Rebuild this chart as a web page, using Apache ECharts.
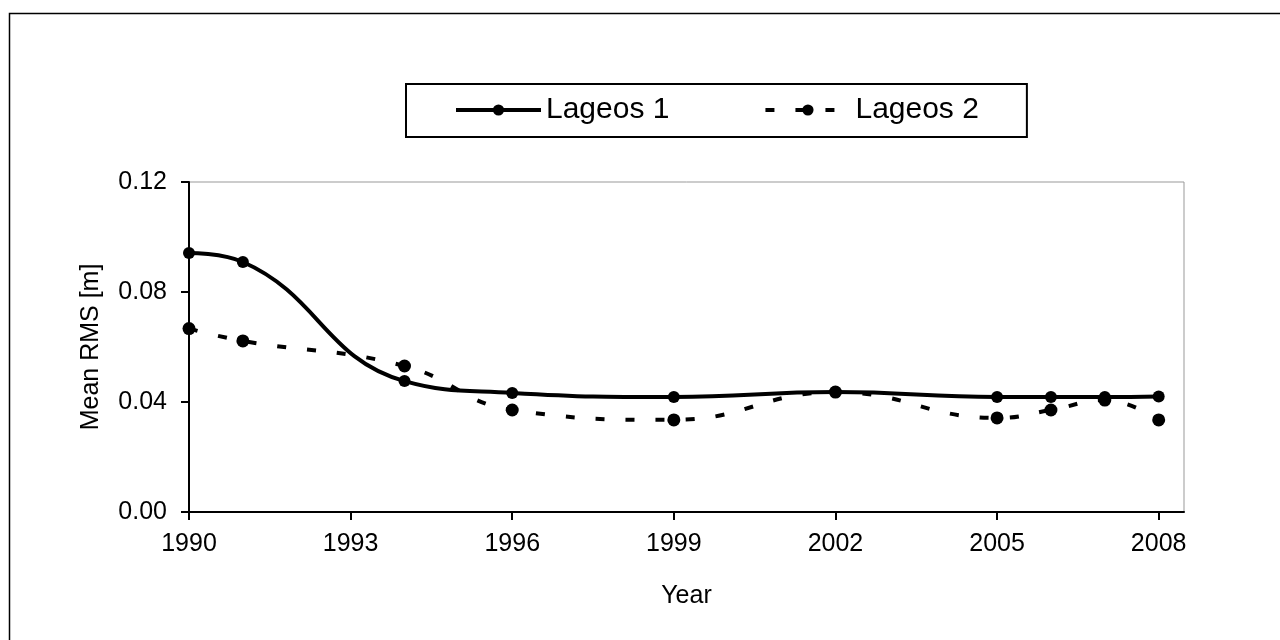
<!DOCTYPE html>
<html><head><meta charset="utf-8">
<script src="https://cdn.jsdelivr.net/npm/echarts@6/dist/echarts.min.js"></script>
<style>html,body{margin:0;padding:0;background:#fff}#c{width:1280px;height:640px}</style>
</head><body><div id="c"></div>
<script>
const years = [1990, 1991, 1994, 1996, 1999, 2002, 2005, 2006, 2007, 2008];
const lageos1 = [0.0942, 0.0909, 0.0476, 0.0433, 0.0418, 0.0436, 0.0418, 0.0418, 0.0418, 0.0420];
const lageos2 = [0.0667, 0.0622, 0.0531, 0.0371, 0.0335, 0.0436, 0.0342, 0.0371, 0.0407, 0.0335];
const xTicks = [1990, 1993, 1996, 1999, 2002, 2005, 2008];
const yTicks = [0, 0.04, 0.08, 0.12];

const font = '"Liberation Sans", Arial, sans-serif';
const chart = echarts.init(document.getElementById('c'));
chart.setOption({
  animation: false,
  backgroundColor: '#fff',
  graphic: [{
    type: 'rect', shape: { x: 9.5, y: 13.5, width: 1300, height: 700 },
    style: { fill: 'none', stroke: '#000', lineWidth: 1.5 }, silent: true
  }],
  legend: {
    left: 406, top: 84,
    itemGap: 94, itemWidth: 85, itemHeight: 14, padding: [11, 48, 12, 48],
    borderColor: '#000', borderWidth: 2,
    textStyle: { fontFamily: font, fontSize: 30, color: '#000' },
    data: [
      { name: 'Lageos 1', lineStyle: { width: 4 } },
      { name: 'Lageos 2', lineStyle: { width: 4 } }
    ]
  },
  grid: { left: 189, top: 182, right: 96, bottom: 128, show: true, borderColor: '#999', borderWidth: 1 },
  xAxis: {
    type: 'value', min: 1990, max: 2008.47, interval: 3,
    name: 'Year', nameLocation: 'middle', nameGap: 72,
    nameTextStyle: { fontFamily: font, fontSize: 25, color: '#000' },
    axisLine: { lineStyle: { color: '#000', width: 2 } },
    axisTick: { customValues: xTicks, length: 8, lineStyle: { color: '#000', width: 2 } },
    axisLabel: { customValues: xTicks, margin: 20, fontFamily: font, fontSize: 25, color: '#000',
      formatter: v => String(v) },
    splitLine: { show: false }
  },
  yAxis: {
    type: 'value', min: 0, max: 0.12, interval: 0.04,
    name: 'Mean RMS [m]', nameLocation: 'middle', nameGap: 85,
    nameTextStyle: { fontFamily: font, fontSize: 25, color: '#000' },
    axisLine: { show: true, lineStyle: { color: '#000', width: 2 } },
    axisTick: { show: true, customValues: yTicks, length: 8, lineStyle: { color: '#000', width: 2 } },
    axisLabel: { customValues: yTicks, margin: 22, fontFamily: font, fontSize: 25, color: '#000',
      formatter: v => v.toFixed(2) },
    splitLine: { show: false }
  },
  series: [{
    name: 'Lageos 1', type: 'line', smooth: 0.45,
    data: years.map((y, i) => [y, lageos1[i]]),
    symbol: 'circle', symbolSize: 12,
    lineStyle: { color: '#000', width: 4 }, itemStyle: { color: '#000' }
  }, {
    name: 'Lageos 2', type: 'line', smooth: 0.45,
    data: years.map((y, i) => [y, lageos2[i]]),
    symbol: 'circle', symbolSize: 13,
    lineStyle: { color: '#000', width: 4, type: [9, 21] }, itemStyle: { color: '#000' }
  }]
});
</script></body></html>
